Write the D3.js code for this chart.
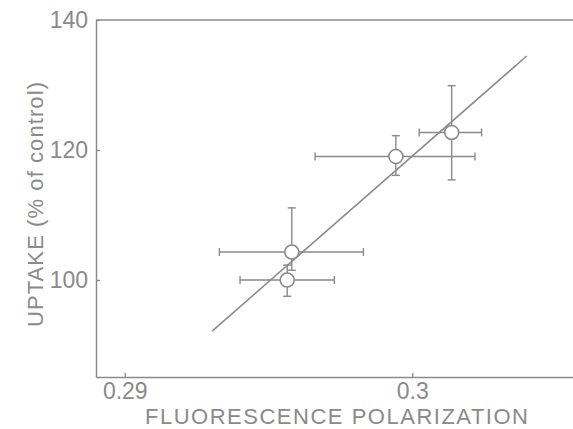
<!DOCTYPE html>
<html>
<head>
<meta charset="utf-8">
<script src="https://cdn.jsdelivr.net/npm/d3@7"></script>
<style>
  html, body { margin: 0; padding: 0; background: #fff; }
  svg { display: block; }
  text { font-family: "Liberation Sans", Arial, Helvetica, sans-serif; fill: #8a8a8a; }
</style>
</head>
<body>
<svg id="chart" width="573" height="429"></svg>
<script>
// Uptake vs. fluorescence polarization, mean ± error in both directions
const polarization = [0.29565, 0.29581, 0.29943, 0.30137];
const uptake       = [100.0, 104.3, 119.0, 122.7];
const polLow       = [0.29401, 0.29329, 0.29662, 0.30024];
const polHigh      = [0.29729, 0.29830, 0.30218, 0.30241];
const uptakeLow    = [97.5, 101.5, 116.1, 115.4];
const uptakeHigh   = [102.3, 111.1, 122.2, 129.9];

// Regression line end points
const fitPolarization = [0.29304, 0.30398];
const fitUptake       = [92.15, 134.46];

const xTicks = [0.29, 0.30];
const xTickLabels = ["0.29", "0.3"];
const yTicks = [100, 120, 140];

const xTitle = "FLUORESCENCE POLARIZATION";
const yTitle = "UPTAKE (% of control)";

const ink = "#8a8a8a";
const svg = d3.select("#chart");

const x = d3.scaleLinear().domain([0.289, 0.30559]).range([96, 573]);
const y = d3.scaleLinear().domain([85.08, 140]).range([377, 20]);

// Axes with inward ticks
const xAxis = d3.axisBottom(x)
  .tickValues(xTicks)
  .tickFormat((d, i) => xTickLabels[i])
  .tickSizeInner(-4).tickSizeOuter(0).tickPadding(6);
const yAxis = d3.axisLeft(y)
  .tickValues(yTicks)
  .tickFormat(d3.format("d"))
  .tickSizeInner(-4).tickSizeOuter(0).tickPadding(8);

const gx = svg.append("g").attr("transform", `translate(0,${y.range()[0]})`).call(xAxis);
const gy = svg.append("g").attr("transform", `translate(${x.range()[0]},0)`).call(yAxis);

[gx, gy].forEach(g => {
  g.select(".domain").attr("stroke", ink).attr("stroke-width", 1.5);
  g.selectAll(".tick line").attr("stroke", ink).attr("stroke-width", 1.3);
  g.selectAll(".tick text")
    .attr("fill", ink)
    .style("font-size", "23px")
    .style("font-family", '"Liberation Sans", Arial, sans-serif');
});

// Top frame line
svg.append("line")
  .attr("x1", x.range()[0]).attr("x2", x.range()[1])
  .attr("y1", y.range()[1]).attr("y2", y.range()[1])
  .attr("stroke", ink).attr("stroke-width", 1.5);

// Fitted line
svg.append("line")
  .attr("x1", x(fitPolarization[0])).attr("y1", y(fitUptake[0]))
  .attr("x2", x(fitPolarization[1])).attr("y2", y(fitUptake[1]))
  .attr("stroke", ink).attr("stroke-width", 1.6);

// Error bars
const cap = 4;
const points = polarization.map((p, i) => ({
  p, u: uptake[i], pl: polLow[i], ph: polHigh[i], ul: uptakeLow[i], uh: uptakeHigh[i]
}));

const bars = svg.append("g").attr("stroke", ink).attr("stroke-width", 1.4).attr("fill", "none");
points.forEach(d => {
  const g = bars.append("g");
  // horizontal
  g.append("line").attr("x1", x(d.pl)).attr("x2", x(d.ph)).attr("y1", y(d.u)).attr("y2", y(d.u));
  g.append("line").attr("x1", x(d.pl)).attr("x2", x(d.pl)).attr("y1", y(d.u) - cap).attr("y2", y(d.u) + cap);
  g.append("line").attr("x1", x(d.ph)).attr("x2", x(d.ph)).attr("y1", y(d.u) - cap).attr("y2", y(d.u) + cap);
  // vertical
  g.append("line").attr("x1", x(d.p)).attr("x2", x(d.p)).attr("y1", y(d.ul)).attr("y2", y(d.uh));
  g.append("line").attr("x1", x(d.p) - cap).attr("x2", x(d.p) + cap).attr("y1", y(d.ul)).attr("y2", y(d.ul));
  g.append("line").attr("x1", x(d.p) - cap).attr("x2", x(d.p) + cap).attr("y1", y(d.uh)).attr("y2", y(d.uh));
});

// Open circles
svg.append("g").selectAll("circle")
  .data(points)
  .join("circle")
  .attr("cx", d => x(d.p))
  .attr("cy", d => y(d.u))
  .attr("r", 7)
  .attr("fill", "#fff")
  .attr("stroke", ink)
  .attr("stroke-width", 1.6);

// Axis titles
svg.append("text")
  .attr("x", 336.5).attr("y", 424)
  .attr("text-anchor", "middle")
  .attr("textLength", 383).attr("lengthAdjust", "spacing")
  .style("font-size", "22px")
  .text(xTitle);

svg.append("text")
  .attr("transform", "translate(43,204.5) rotate(-90)")
  .attr("text-anchor", "middle")
  .attr("textLength", 245).attr("lengthAdjust", "spacing")
  .style("font-size", "22px")
  .text(yTitle);
</script>
</body>
</html>
